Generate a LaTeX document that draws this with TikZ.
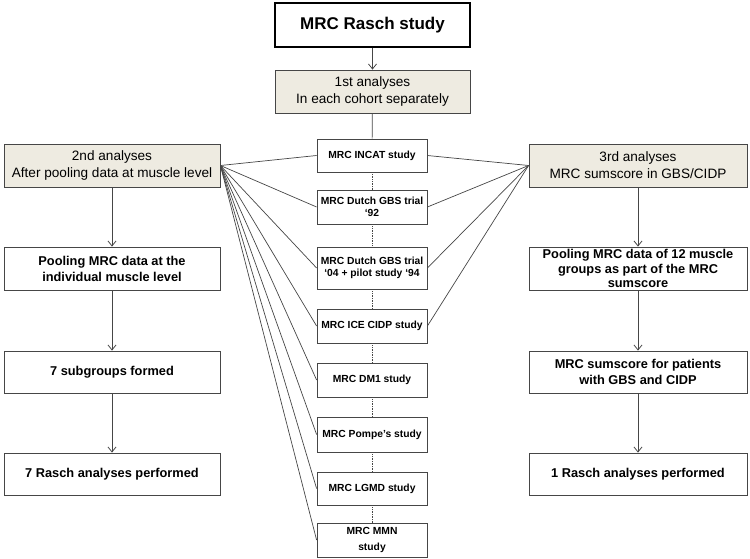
\documentclass[tikz,border=0pt]{standalone}
\usepackage{fontspec}
\setmainfont{Liberation Sans}
\usetikzlibrary{arrows.meta}
\definecolor{boxline}{RGB}{70,70,70}
\definecolor{beige}{RGB}{238,235,225}
\tikzset{
	titlebox/.style={draw=black, line width=2.2pt, rectangle, minimum width=195pt, minimum height=44pt, inner sep=0pt, align=center, font=\fontsize{17}{20}\selectfont\bfseries},
	phasebox/.style={draw=boxline, line width=0.8pt, rectangle, fill=beige, inner sep=0pt, align=center, font=\fontsize{13.6}{17}\selectfont},
	sidebox/.style={draw=boxline, line width=0.8pt, rectangle, inner sep=0pt, align=center, font=\fontsize{12.8}{16}\selectfont\bfseries},
	cohortbox/.style={draw=boxline, line width=0.8pt, rectangle, minimum width=110pt, inner sep=0pt, align=center, font=\fontsize{10.3}{11.8}\selectfont\bfseries},
	link/.style={draw=boxline, line width=0.7pt},
	flow/.style={draw=boxline, line width=0.8pt, -{Straight Barb[length=5pt, width=8pt]}},
	chain/.style={draw=boxline, line width=0.7pt, densely dotted}
}
\begin{document}
\begin{tikzpicture}[x=1pt, y=-1pt]
	\useasboundingbox (0,0) rectangle (750,559);
	\node[titlebox] (Rasch Study) at (372.5, 25) {MRC Rasch study};
	\node[phasebox, minimum width=195pt, minimum height=43pt] (First Analyses) at (372.5, 91.5) {1st analyses\\In each cohort separately};
	% cohorts in the middle
	\node[cohortbox, minimum height=33pt] (INCAT) at (372, 155.5) {MRC INCAT study};
	\node[cohortbox, minimum height=34pt] (Dutch GBS 92) at (372, 207) {MRC Dutch GBS trial\\‘92};
	\node[cohortbox, minimum height=42pt] (Dutch GBS 04) at (372, 268) {MRC Dutch GBS trial\\‘04 + pilot study ‘94};
	\node[cohortbox, minimum height=34pt] (ICE CIDP) at (372, 326) {MRC ICE CIDP study};
	\node[cohortbox, minimum height=34pt] (DM1) at (372, 380) {MRC DM1 study};
	\node[cohortbox, minimum height=35pt] (Pompe) at (372, 434.5) {MRC Pompe’s study};
	\node[cohortbox, minimum height=33pt] (LGMD) at (372, 488.5) {MRC LGMD study};
	\node[cohortbox, minimum height=34pt, font=\fontsize{10.3}{16}\selectfont\bfseries] (MMN) at (372, 540) {MRC MMN\\study};
	% left column
	\node[phasebox, minimum width=216pt, minimum height=43pt] (Second Analyses) at (112, 165.5) {2nd analyses\\After pooling data at muscle level};
	\node[sidebox, minimum width=216pt, minimum height=43pt] (Muscle Pooling) at (112, 268.5) {Pooling MRC data at the\\individual muscle level};
	\node[sidebox, minimum width=216pt, minimum height=42pt] (Subgroups) at (112, 372) {7 subgroups formed};
	\node[sidebox, minimum width=216pt, minimum height=42pt] (Seven Rasch) at (112, 474) {7 Rasch analyses performed};
	% right column
	\node[phasebox, minimum width=218pt, minimum height=43pt] (Third Analyses) at (638, 165.5) {3rd analyses\\MRC sumscore in GBS/CIDP};
	\node[sidebox, minimum width=218pt, minimum height=43pt, font=\fontsize{12.8}{14.5}\selectfont\bfseries] (Sumscore Pooling) at (638, 268.5) {Pooling MRC data of 12 muscle\\groups as part of the MRC\\sumscore};
	\node[sidebox, minimum width=218pt, minimum height=42pt] (Sumscore) at (638, 372) {MRC sumscore for patients\\with GBS and CIDP};
	\node[sidebox, minimum width=218pt, minimum height=42pt] (One Rasch) at (638, 474) {1 Rasch analyses performed};
	\draw[flow] (Rasch Study) -- (First Analyses);
	\draw[link] (First Analyses) -- (INCAT);
	\draw[chain] (INCAT) -- (Dutch GBS 92);
	\draw[chain] (Dutch GBS 92) -- (Dutch GBS 04);
	\draw[chain] (Dutch GBS 04) -- (ICE CIDP);
	\draw[chain] (ICE CIDP) -- (DM1);
	\draw[chain] (DM1) -- (Pompe);
	\draw[chain] (Pompe) -- (LGMD);
	\draw[chain] (LGMD) -- (MMN);
	\draw[link] (Second Analyses.east) -- (INCAT.west);
	\draw[link] (Second Analyses.east) -- (Dutch GBS 92.west);
	\draw[link] (Second Analyses.east) -- (Dutch GBS 04.west);
	\draw[link] (Second Analyses.east) -- (ICE CIDP.west);
	\draw[link] (Second Analyses.east) -- (DM1.west);
	\draw[link] (Second Analyses.east) -- (Pompe.west);
	\draw[link] (Second Analyses.east) -- (LGMD.west);
	\draw[link] (Second Analyses.east) -- (MMN.west);
	\draw[link] (Third Analyses.west) -- (INCAT.east);
	\draw[link] (Third Analyses.west) -- (Dutch GBS 92.east);
	\draw[link] (Third Analyses.west) -- (Dutch GBS 04.east);
	\draw[link] (Third Analyses.west) -- (ICE CIDP.east);
	\draw[flow] (Second Analyses) -- (Muscle Pooling);
	\draw[flow] (Muscle Pooling) -- (Subgroups);
	\draw[flow] (Subgroups) -- (Seven Rasch);
	\draw[flow] (Third Analyses) -- (Sumscore Pooling);
	\draw[flow] (Sumscore Pooling) -- (Sumscore);
	\draw[flow] (Sumscore) -- (One Rasch);
\end{tikzpicture}
\end{document}
